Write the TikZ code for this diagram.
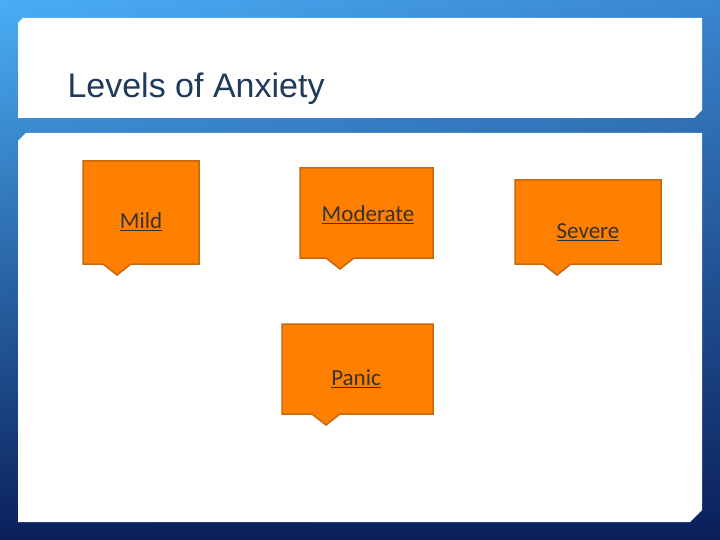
\documentclass[tikz,border=0pt]{standalone}
\usepackage{fontspec}
\setmainfont{Carlito}
\newfontfamily\titlefont{Liberation Sans}
\usetikzlibrary{positioning, shadings}
\definecolor{boxfill}{HTML}{FF8000}
\definecolor{boxline}{HTML}{C8680A}
\definecolor{titleblue}{HTML}{1F3A5A}
\definecolor{bglight}{HTML}{4AAEF5}
\definecolor{bgmid}{HTML}{3A86D0}
\definecolor{bgdark}{HTML}{0A1F5A}
\tikzstyle{panel} = [fill = white]
\tikzstyle{callout} = [fill = boxfill, draw = boxline, line width = 1.5pt, line join = miter]
\tikzstyle{boxtext} = [text = black!80, font = \fontsize{23}{27}\selectfont]
% box corners, pointer tip x, node name, text position
\newcommand{\calloutbox}[8]{
    \draw [callout] (#1,#2) -- (#3,#2) -- (#3,#4) -- (#5+14,#4)
        -- (#5,#4+11) -- (#5-14,#4) -- (#1,#4) -- cycle;
    \node (#6) [boxtext] at (#7) {\underline{#8}};
}
\begin{document}
\begin{tikzpicture}[x = 1pt, y = -1pt]
    \useasboundingbox (0,0) rectangle (720,540);
    \shade [upper left = bglight, upper right = bgmid,
        lower left = bgdark, lower right = bgdark]
        (0,0) rectangle (720,540);

    \fill [panel] (23,18) -- (702,18) -- (702,110) -- (694,118)
        -- (18,118) -- (18,23) -- cycle;
    \fill [panel] (26,133) -- (702,133) -- (702,510) -- (690,522)
        -- (18,522) -- (18,141) -- cycle;

    \node (title) [anchor = west, text = titleblue,
        font = \titlefont\fontsize{34}{40}\selectfont] at (64,89)
        {Levels of Anxiety};

    \calloutbox{83}{161}{199}{264}{117}{mild}{141,222}{Mild}
    \calloutbox{300}{168}{433}{258}{340}{moderate}{368,215}{Moderate}
    \calloutbox{515}{180}{661}{264}{557}{severe}{588,232}{Severe}
    \calloutbox{282}{324}{433}{414}{326}{panic}{356,379}{Panic}
\end{tikzpicture}
\end{document}
